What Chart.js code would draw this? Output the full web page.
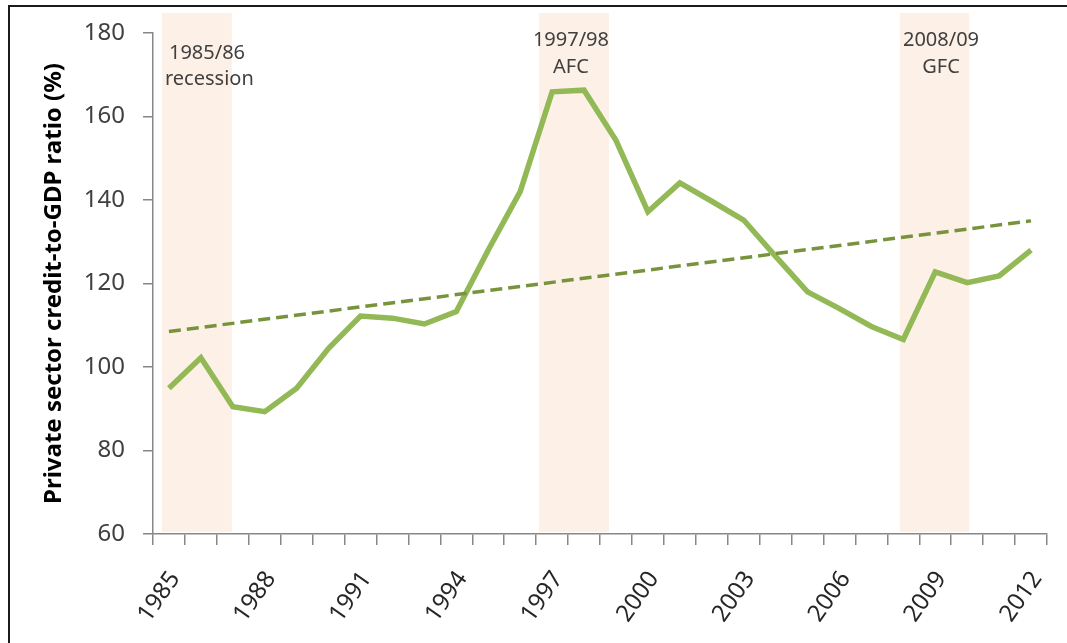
<!DOCTYPE html>
<html><head><meta charset="utf-8">
<script src="https://cdn.jsdelivr.net/npm/chart.js@4.4.0/dist/chart.umd.min.js"></script>
<style>html,body{margin:0;padding:0;background:#fff;overflow:hidden}</style>
</head><body>
<canvas id="c" width="1067" height="643"></canvas>
<script>
// ---- data ----
const years = ['1985','1986','1987','1988','1989','1990','1991','1992','1993','1994','1995','1996','1997','1998','1999','2000','2001','2002','2003','2004','2005','2006','2007','2008','2009','2010','2011','2012'];
const creditRatio = [94.9,102.2,90.5,89.3,94.9,104.5,112.2,111.7,110.3,113.3,128.0,142.0,165.9,166.3,154.3,137.2,144.1,139.7,135.2,126.5,118.0,114.0,109.7,106.6,122.8,120.2,121.8,128.0];
const trendYears = ['1985','2012'];
const trendValues = [108.5,135.0];
const yTickValues = [60,80,100,120,140,160,180];
const labelEvery = 3;
const bandStartYear = [1984.78,1996.59,2007.89];
const bandEndYear = [1986.97,1998.78,2010.06];
const bandLabelTop = ['1985/86','1997/98','2008/09'];
const bandLabelBottom = ['recession','AFC','GFC'];
const bandLabelYear = [1985.0,1997.59,2009.18];

const FONT = "'Noto Sans', sans-serif";

const decor = {
  id:'decor',
  beforeDraw(chart){
    const {ctx, chartArea, scales} = chart;
    const x = scales.x;
    ctx.save();
    ctx.fillStyle = '#fff';
    ctx.fillRect(0,0,chart.width,chart.height);
    ctx.fillStyle = '#1a1a1a';
    ctx.fillRect(8,5,chart.width-8,2);
    ctx.fillRect(8,5,2,chart.height-5);
    ctx.fillStyle = '#fdf0e7';
    for (let i=0;i<bandStartYear.length;i++){
      const x0 = x.getPixelForValue(bandStartYear[i]-1985);
      const x1 = x.getPixelForValue(bandEndYear[i]-1985);
      ctx.fillRect(x0, 13, x1-x0, chartArea.bottom-2-13);
    }
    ctx.restore();
  },
  afterDraw(chart){
    const {ctx, chartArea, scales} = chart;
    const x = scales.x;
    ctx.save();
    ctx.fillStyle = '#404040';
    ctx.font = "20px " + FONT;
    ctx.textBaseline = 'middle';
    for (let i=0;i<bandLabelTop.length;i++){
      const px = x.getPixelForValue(bandLabelYear[i]-1985);
      if (i===0){
        ctx.textAlign='left';
        ctx.fillText(bandLabelTop[i], px, chartArea.top+20);
        ctx.fillText(bandLabelBottom[i], px-4, chartArea.top+46);
      } else {
        ctx.textAlign='center';
        ctx.fillText(bandLabelTop[i], px, chartArea.top+7);
        ctx.fillText(bandLabelBottom[i], px, chartArea.top+34);
      }
    }
    ctx.restore();
  }
};

new Chart(document.getElementById('c'), {
  type:'line',
  data:{
    labels: years,
    datasets:[
      {
        label:'Trend',
        data: trendYears.map((y,i)=>({x:y, y:trendValues[i]})),
        borderColor:'#77933c',
        borderWidth:3.5,
        borderDash:[12,6],
        pointRadius:0,
        fill:false,
        tension:0
      },
      {
        label:'Private sector credit-to-GDP ratio',
        data: creditRatio,
        borderColor:'#93b956',
        borderWidth:5.5,
        pointRadius:0,
        fill:false,
        tension:0,
        borderJoinStyle:'miter'
      }
    ]
  },
  plugins:[decor],
  options:{
    responsive:false,
    animation:false,
    devicePixelRatio:1,
    layout:{padding:{left:12,top:33,right:20,bottom:0}},
    plugins:{legend:{display:false},tooltip:{enabled:false}},
    scales:{
      x:{
        type:'category',
        offset:true,
        grid:{offset:true,drawOnChartArea:false,drawTicks:true,tickLength:11,color:'#878787',lineWidth:1.5},
        border:{display:true,color:'#878787',width:1.5},
        ticks:{
          autoSkip:false,maxRotation:55,minRotation:55,padding:21,labelOffset:6,
          color:'#262626',font:{family:FONT,size:24},
          callback:function(v,i){const l=this.getLabelForValue(v);return ((+l-1985)%labelEvery===0)?l:'';}
        },
        afterFit(s){s.height=109;s.paddingLeft=0;s.paddingRight=0;}
      },
      y:{
        min:yTickValues[0],max:yTickValues[yTickValues.length-1],
        afterBuildTicks(s){s.ticks=yTickValues.map(v=>({value:v}));},
        grid:{drawOnChartArea:false,drawTicks:true,tickLength:10,color:'#878787',lineWidth:1.5},
        border:{display:true,color:'#878787',width:1.5},
        ticks:{padding:18,color:'#404040',font:{family:FONT,size:24}},
        title:{display:true,text:'Private sector credit-to-GDP ratio (%)',color:'#000',font:{family:FONT,size:24,weight:'bold'},padding:{top:28,bottom:0}},
        afterFit(s){s.width=141;}
      }
    }
  }
});
</script>
</body></html>
